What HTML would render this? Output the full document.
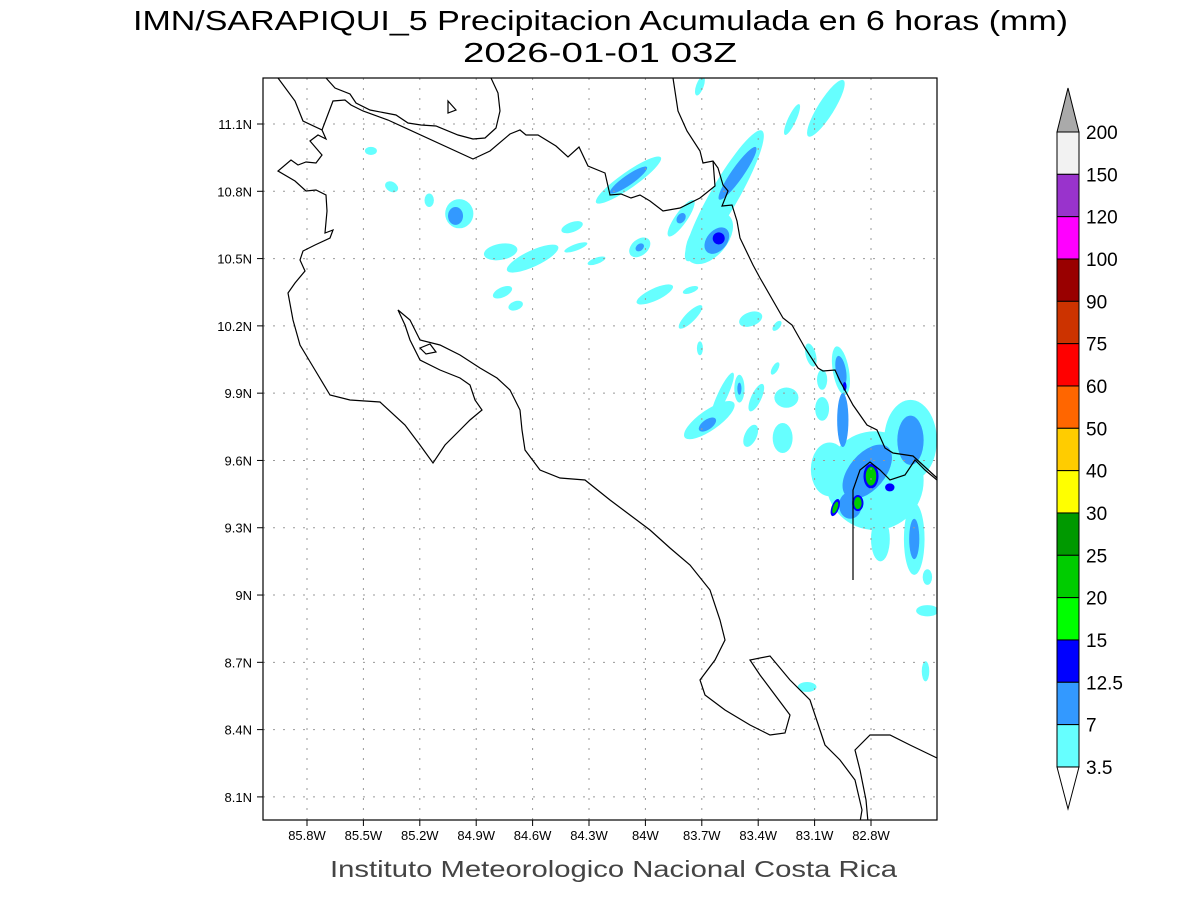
<!DOCTYPE html>
<html><head><meta charset="utf-8"><style>
body{margin:0;background:#fff;}
svg text{font-family:"Liberation Sans",sans-serif;}
</style></head><body>
<svg id="chart" width="1200" height="900" xmlns="http://www.w3.org/2000/svg">
<rect width="1200" height="900" fill="#fff"/>
<text x="133" y="30" textLength="935" lengthAdjust="spacingAndGlyphs" font-size="28">IMN/SARAPIQUI_5 Precipitacion Acumulada en 6 horas (mm)</text>
<text x="463" y="62" textLength="274" lengthAdjust="spacingAndGlyphs" font-size="28">2026-01-01 03Z</text>
<clipPath id="clip"><rect x="263" y="78" width="674" height="742"/></clipPath>
<g id="blobs" clip-path="url(#clip)"></g>
<g id="grid"></g>
<g clip-path="url(#clip)" fill="none" stroke="#000" stroke-width="1.2">
<polyline points="278,78 295,101 303,121 322,130 326,139 318,135 310,141 322,155 316,163 306,162 298,165 291,160 278,171 295,181 306,191 316,190 326,195 327,211 325,233 333,230 330,238 315,245 303,251 300,260 305,271 295,283 288,293 293,320 300,345 315,370 330,395 350,400 380,402 405,425 420,445 433,463 445,445 460,430 470,420 482,410 475,400 470,385 460,378 440,370 420,360 410,340 405,325 398,310 410,320 420,340 440,345 460,355 480,368 497,378 510,390 520,410 522,430 525,450 540,470 560,478 585,480 610,500 630,515 650,530 670,548 690,565 710,590 720,620 725,640 715,660 700,680 705,695 725,710 750,725 770,735 785,733 790,715 775,695 760,675 750,660 770,656 790,680 810,700 820,730 825,745 840,760 855,780 862,810 860,822"/>
<polyline points="868,822 866,800 860,770 855,750 870,735 890,735 910,745 937,758"/>
<polyline points="853,580 853,490 860,470 870,462 880,470 890,480 905,475 915,460 925,470 937,480"/>
<polyline points="673,78 678,111 687,131 700,151 703,163 713,161 718,168 723,185 728,191 722,206 732,205 737,221 740,238 753,265 760,278 783,318 792,325 805,348 818,368 823,371 835,370 840,381 853,405 867,425 877,430 885,448 893,453 913,456 937,478"/>
<polyline points="326,78 335,88 350,94 356,103 370,110 396,115 408,123 421,125 436,126 458,135 473,139 485,138 496,128 500,111 498,93 491,78"/>
<polyline points="322,130 333,101 345,100 351,105 363,111 388,120 473,159 490,151 510,134 520,130 526,135 538,135 556,146 568,157 579,147 588,166 605,173 610,195 621,194 631,198 640,195 650,201 663,211 680,208 700,198 715,186 713,161"/>
<polygon points="448,101 456,110 448,113"/>
<polygon points="420,348 430,344 436,352 426,354"/>
</g>
<rect x="263" y="78" width="674" height="742" fill="none" stroke="#000" stroke-width="1.2"/>
<g id="xticks"></g>
<g id="yticks"></g>
<g id="cbar"></g>
<text x="330" y="877" textLength="567" lengthAdjust="spacingAndGlyphs" font-size="23" fill="#444">Instituto Meteorologico Nacional Costa Rica</text>
</svg>
<script>
const xTickLabels=["85.8W","85.5W","85.2W","84.9W","84.6W","84.3W","84W","83.7W","83.4W","83.1W","82.8W"];
const xTickValues=[85.8,85.5,85.2,84.9,84.6,84.3,84.0,83.7,83.4,83.1,82.8];
const yTickLabels=["11.1N","10.8N","10.5N","10.2N","9.9N","9.6N","9.3N","9N","8.7N","8.4N","8.1N"];
const yTickValues=[11.1,10.8,10.5,10.2,9.9,9.6,9.3,9.0,8.7,8.4,8.1];
const levelLabels=["200","150","120","100","90","75","60","50","40","30","25","20","15","12.5","7","3.5"];
const levelColors=["#f2f2f2","#9933cc","#ff00ff","#990000","#cc3300","#ff0000","#ff6600","#ffcc00","#ffff00","#009900","#00cc00","#00ff00","#0000ff","#3399ff","#66ffff"];
// blobs: lon(W), lat(N), rxDeg, ryDeg, rotation, level(1=3.5,2=7,3=12.5,4=15)
const blobLon=[83.71,83.04,83.22,83.58,83.51,83.66,83.62,83.61,84.09,84.09,83.81,83.81,84.03,84.03,85.46,85.35,85.15,84.99,85.01,84.39,84.77,84.60,84.37,84.26,84.76,84.69,83.95,83.76,83.76,83.44,83.30,83.71,83.31,83.66,83.67,83.59,83.50,83.50,83.41,83.25,83.44,83.27,83.06,83.12,83.06,82.96,82.96,
82.78,82.59,83.02,82.75,82.57,82.50,82.50,82.51,83.14,82.82,82.59,82.95,82.91,82.57,82.80,82.87,82.99,82.70,82.94,82.80,82.87,82.99];
const blobLat=[11.27,11.17,11.12,10.78,10.88,10.59,10.58,10.59,10.85,10.85,10.68,10.68,10.55,10.55,10.98,10.82,10.76,10.70,10.69,10.64,10.53,10.50,10.55,10.49,10.35,10.29,10.34,10.36,10.24,10.23,10.20,10.10,10.01,9.78,9.76,9.89,9.92,9.92,9.88,9.88,9.71,9.70,9.83,10.07,9.96,10.0,10.0,
9.51,9.69,9.56,9.25,9.25,9.08,8.93,8.66,8.59,9.55,9.69,9.78,9.40,9.25,9.53,9.41,9.39,9.48,9.93,9.53,9.41,9.39];
const blobRx=[.02,.176,.09,.40,.17,.16,.08,.032,.21,.12,.117,.03,.064,.025,.032,.037,.025,.075,.04,.06,.09,.15,.065,.05,.055,.04,.106,.043,.085,.064,.032,.016,.016,.16,.053,.133,.027,.011,.027,.064,.032,.053,.037,.027,.027,.043,.027,
.26,.14,.10,.05,.055,.025,.06,.02,.05,.17,.07,.03,.06,.027,.04,.03,.02,.025,.01,.028,.02,.012];
const blobRy=[.045,.036,.018,.062,.027,.08,.045,.027,.036,.022,.027,.018,.036,.015,.018,.022,.03,.065,.04,.022,.036,.036,.014,.014,.022,.02,.027,.014,.022,.031,.014,.031,.031,.045,.022,.022,.062,.027,.067,.045,.053,.067,.053,.053,.045,.11,.067,
.22,.18,.12,.10,.16,.035,.025,.045,.022,.08,.11,.12,.06,.09,.055,.036,.04,.018,.02,.042,.027,.027];
const blobRot=[20,-58,-65,-60,-55,-50,-50,0,-35,-35,-55,-55,-40,-40,0,30,0,0,0,-20,-10,-25,-20,-20,-25,-20,-25,-20,-45,-20,-50,0,30,-35,-35,-65,0,0,25,0,25,0,0,-15,0,-10,-10,
0,0,0,0,0,0,0,0,0,-50,0,0,0,0,0,0,20,0,0,0,0,20];
const blobLevel=[1,1,1,1,2,1,2,3,1,2,1,2,1,2,1,1,1,1,2,1,1,1,1,1,1,1,1,1,1,1,1,1,1,1,2,1,1,2,1,1,1,1,1,1,1,1,2,
1,1,1,1,1,1,1,1,1,2,2,2,2,2,3,3,3,3,3,4,4,4];

const xScale=lon=>307+(85.8-lon)*188;
const yScale=lat=>124+(11.1-lat)*224.3;
const NS="http://www.w3.org/2000/svg";
const lvlFill=["","#66ffff","#3399ff","#0000ff","#00cc00"];

const gx=document.getElementById('xticks'),gy=document.getElementById('yticks'),gg=document.getElementById('grid');
xTickValues.forEach((v,i)=>{
  const x=xScale(v);
  const l=document.createElementNS(NS,'line');
  
  
  l.setAttribute('x1',x);l.setAttribute('x2',x);l.setAttribute('y1',78);l.setAttribute('y2',820);
  l.setAttribute('stroke','#999');l.setAttribute('stroke-dasharray','2,8');gg.appendChild(l);
  const t=document.createElementNS(NS,'line');
  
  
  t.setAttribute('x1',x);t.setAttribute('x2',x);t.setAttribute('y1',820);t.setAttribute('y2',826);t.setAttribute('stroke','#000');gx.appendChild(t);
  const s=document.createElementNS(NS,'text');
  
  
  s.setAttribute('x',x);s.setAttribute('y',840);s.setAttribute('text-anchor','middle');s.setAttribute('font-size','13');
  s.textContent=xTickLabels[i];gx.appendChild(s);
});
yTickValues.forEach((v,i)=>{
  const y=yScale(v);
  const l=document.createElementNS(NS,'line');
  
  
  l.setAttribute('x1',263);l.setAttribute('x2',937);l.setAttribute('y1',y);l.setAttribute('y2',y);
  l.setAttribute('stroke','#999');l.setAttribute('stroke-dasharray','2,8');gg.appendChild(l);
  const t=document.createElementNS(NS,'line');
  
  
  t.setAttribute('x1',257);t.setAttribute('x2',263);t.setAttribute('y1',y);t.setAttribute('y2',y);t.setAttribute('stroke','#000');gy.appendChild(t);
  const s=document.createElementNS(NS,'text');
  
  
  s.setAttribute('x',252);s.setAttribute('y',y+5);s.setAttribute('text-anchor','end');s.setAttribute('font-size','13');
  s.textContent=yTickLabels[i];gy.appendChild(s);
});

const gb=document.getElementById('blobs');
for(let lv=1;lv<=4;lv++){
  blobLon.forEach((lon,i)=>{
    if(blobLevel[i]!==lv)return;
    const cx=xScale(lon),cy=yScale(blobLat[i]);
    const e=document.createElementNS(NS,'ellipse');
    
    
    e.setAttribute('cx',cx);e.setAttribute('cy',cy);
    e.setAttribute('rx',blobRx[i]*188);e.setAttribute('ry',blobRy[i]*224.3);
    e.setAttribute('transform','rotate('+blobRot[i]+' '+cx+' '+cy+')');
    e.setAttribute('fill',lvlFill[lv]);
    gb.appendChild(e);
  });
}

const gc=document.getElementById('cbar');
const cx0=1057,cw=22,top0=132,step=42.33;
const tri=document.createElementNS(NS,'polygon');


tri.setAttribute('points',`${cx0},${top0} ${cx0+cw/2},88 ${cx0+cw},${top0}`);
tri.setAttribute('fill','#aaaaaa');tri.setAttribute('stroke','#000');gc.appendChild(tri);
levelColors.forEach((c,i)=>{
  const r=document.createElementNS(NS,'rect');
  
  
  r.setAttribute('x',cx0);r.setAttribute('y',top0+i*step);r.setAttribute('width',cw);r.setAttribute('height',step);
  r.setAttribute('fill',c);r.setAttribute('stroke','#000');gc.appendChild(r);
});
const bot=top0+levelColors.length*step;
const tri2=document.createElementNS(NS,'polygon');


tri2.setAttribute('points',`${cx0},${bot} ${cx0+cw/2},${bot+42} ${cx0+cw},${bot}`);
tri2.setAttribute('fill','#fff');tri2.setAttribute('stroke','#000');gc.appendChild(tri2);
levelLabels.forEach((s,i)=>{
  const t=document.createElementNS(NS,'text');
  
  
  t.setAttribute('x',1086);t.setAttribute('y',top0+i*step+7);t.setAttribute('font-size','19');
  t.textContent=s;gc.appendChild(t);
});
</script>
</body></html>
